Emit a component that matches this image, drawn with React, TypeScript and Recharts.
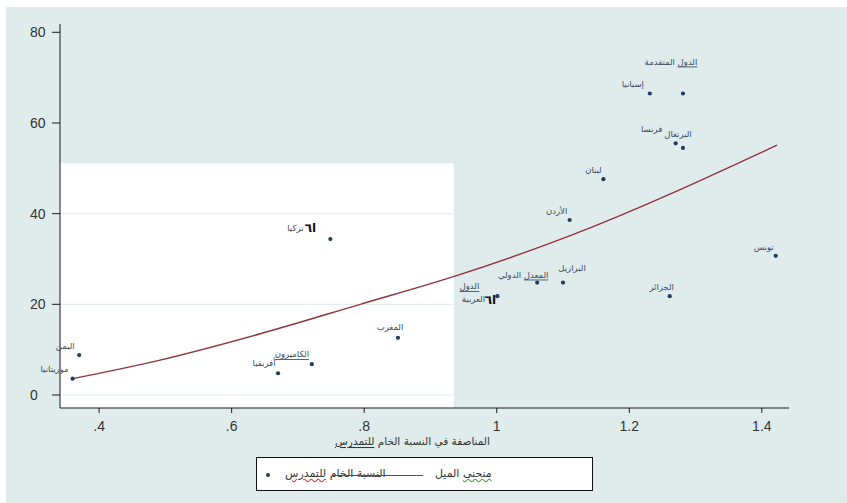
import React from "react";
import {
  ComposedChart,
  Scatter,
  Line,
  XAxis,
  YAxis,
  ReferenceArea,
  ReferenceLine,
} from "recharts";

// ---------- data ----------
const COUNTRIES = [
  "الدول المتقدمة",
  "إسبانيا",
  "فرنسا",
  "البرتغال",
  "لبنان",
  "الأردن",
  "تونس",
  "البرازيل",
  "المعدل الدولي",
  "الجزائر",
  "الدول العربية",
  "اليمن",
  "موريتانيا",
  "أفريقيا",
  "الكاميرون",
  "المغرب",
  "تركيا",
];
const PARITY_INDEX = [
  1.281, 1.231, 1.27, 1.281, 1.161, 1.11, 1.421, 1.1, 1.061, 1.261, 1.001,
  0.37, 0.36, 0.67, 0.721, 0.851, 0.749,
];
const GROSS_RATE = [
  66.5, 66.5, 55.5, 54.5, 47.6, 38.6, 30.7, 24.8, 24.8, 21.8, 21.8, 8.8, 3.6,
  4.8, 6.8, 12.6, 34.4,
];
const FIT_X = [0.36, 0.492, 0.643, 0.794, 0.937, 1.11, 1.423];
const FIT_Y = [3.6, 7.7, 13.5, 20.0, 26.2, 35.1, 55.1];

const X_TICKS = [0.4, 0.6, 0.8, 1, 1.2, 1.4];
const X_TICK_LABELS = [".4", ".6", ".8", "1", "1.2", "1.4"];
const Y_TICKS = [0, 20, 40, 60, 80];
const X_TITLE_WORDS = ["المناصفة", "في", "النسبة", "الخام", "للتمدرس"];
const LEGEND_SCATTER_WORDS = ["النسبة", "الخام", "للتمدرس"];
const LEGEND_FIT_WORDS = ["منحنى", "الميل"];

// ---------- layout / style ----------
const X_DOMAIN: [number, number] = [0.341, 1.441];
const Y_DOMAIN: [number, number] = [-2.87, 81.83];
const WHITE_PATCH = { x2: 0.935, y2: 51.1 };
const WHITE_GRID = [0, 20, 40];
const BG = "#e0ecec";
const NAVY = "#1d3f63";
const MAROON = "#90353b";
const LABEL_COLOR = "#3a4a60";
const AR_FONT = "DejaVu Sans";
const NUM_FONT = "Liberation Sans, Arial, sans-serif";
const GREEN_WAVY = "underline wavy #3aa33a";
const RED_WAVY = "underline wavy #e03030";

// label offsets (text centre relative to the dot), in px
const LABEL_OFFSETS: Record<string, [number, number]> = {
  "الدول المتقدمة": [-12, -32],
  "إسبانيا": [-17, -10],
  "فرنسا": [-24, -14],
  "البرتغال": [-5, -14],
  "لبنان": [-10, -9],
  "الأردن": [-13, -9],
  "تونس": [-12, -9],
  "البرازيل": [9, -15],
  "المعدل الدولي": [-14, -8],
  "الجزائر": [-8, -9],
  "اليمن": [-14, -9],
  "موريتانيا": [-18, -10],
  "أفريقيا": [-14, -10],
  "الكاميرون": [-20, -10],
  "المغرب": [-8, -11],
};
const WAVY_WORDS: Record<string, Record<string, string>> = {
  "الدول المتقدمة": { "الدول": GREEN_WAVY },
  "المعدل الدولي": { "المعدل": GREEN_WAVY },
  "الكاميرون": { "الكاميرون": RED_WAVY },
};

const points = COUNTRIES.map((name, i) => ({
  name,
  x: PARITY_INDEX[i],
  y: GROSS_RATE[i],
}));
const fitData = FIT_X.map((x, i) => ({ x, y: FIT_Y[i] }));

function RichWords({ words, marks }: { words: string[]; marks?: Record<string, string> }) {
  return (
    <>
      {words.map((w, i) => (
        <React.Fragment key={i}>
          {i > 0 ? " " : null}
          <tspan style={marks && marks[w] ? { textDecoration: marks[w] } : undefined}>{w}</tspan>
        </React.Fragment>
      ))}
    </>
  );
}

const labelProps = {
  fill: LABEL_COLOR,
  fontSize: 8.5,
  fontFamily: AR_FONT,
  textAnchor: "middle" as const,
  dominantBaseline: "central" as const,
};

function DotWithLabel(props: any) {
  const { cx, cy, payload } = props;
  if (cx == null || cy == null) return null;
  const name: string = payload.name;
  let label: React.ReactNode = null;
  if (name === "الدول العربية") {
    label = (
      <>
        <text x={cx - 28} y={cy - 10} {...labelProps}>
          <tspan style={{ textDecoration: GREEN_WAVY }}>الدول</tspan>
        </text>
        <text x={cx - 24} y={cy + 3} {...labelProps}>العربية</text>
        <text x={cx - 7} y={cy + 4} {...labelProps} fill="#111" fontWeight="bold" fontSize={12}>ا٦</text>
      </>
    );
  } else if (name === "تركيا") {
    label = (
      <>
        <text x={cx - 35} y={cy - 11} {...labelProps}>تركيا</text>
        <text x={cx - 20} y={cy - 11} {...labelProps} fill="#111" fontWeight="bold" fontSize={12}>ا٦</text>
      </>
    );
  } else {
    const [dx, dy] = LABEL_OFFSETS[name] ?? [-12, -10];
    label = (
      <text x={cx + dx} y={cy + dy} {...labelProps}>
        <RichWords words={name.split(" ")} marks={WAVY_WORDS[name]} />
      </text>
    );
  }
  return (
    <g>
      <circle cx={cx} cy={cy} r={2.1} fill={NAVY} />
      {label}
    </g>
  );
}

function YTick(props: any) {
  const { x, y, payload } = props;
  return (
    <text x={x - 20} y={y} dy="0.355em" textAnchor="start" fill="#333" fontSize={14} fontFamily={NUM_FONT}>
      {payload.value}
    </text>
  );
}

function XTitle(props: any) {
  const vb = props.viewBox || {};
  return (
    <text
      x={vb.x + vb.width / 2 - 12}
      y={vb.y + 33}
      textAnchor="middle"
      dominantBaseline="central"
      fill="#333"
      fontSize={10.5}
      fontFamily={AR_FONT}
    >
      <RichWords words={X_TITLE_WORDS} marks={{ "للتمدرس": RED_WAVY }} />
    </text>
  );
}

function LegendBox() {
  const txt: React.CSSProperties = {
    position: "absolute",
    top: 8,
    fontFamily: AR_FONT,
    fontSize: 11,
    color: "#333",
    whiteSpace: "nowrap",
    direction: "rtl",
    lineHeight: "16px",
  };
  return (
    <div
      style={{
        position: "absolute",
        left: 256,
        top: 457,
        width: 335,
        height: 32,
        border: "1px solid #111",
        background: "#fff",
      }}
    >
      <div
        style={{
          position: "absolute",
          left: 9,
          top: 15,
          width: 4.2,
          height: 4.2,
          borderRadius: "50%",
          background: NAVY,
        }}
      />
      <div style={{ ...txt, left: 28 }}>
        {LEGEND_SCATTER_WORDS.map((w, i) => (
          <React.Fragment key={i}>
            {i > 0 ? " " : null}
            <span style={w === "للتمدرس" ? { textDecoration: RED_WAVY } : undefined}>{w}</span>
          </React.Fragment>
        ))}
      </div>
      <div
        style={{
          position: "absolute",
          left: 76,
          top: 16.5,
          width: 90,
          height: 1.3,
          background: MAROON,
        }}
      />
      <div style={{ ...txt, left: 178 }}>
        {LEGEND_FIT_WORDS.map((w, i) => (
          <React.Fragment key={i}>
            {i > 0 ? " " : null}
            <span style={w === "منحنى" ? { textDecoration: GREEN_WAVY } : undefined}>{w}</span>
          </React.Fragment>
        ))}
      </div>
    </div>
  );
}

export default function App() {
  return (
    <div
      style={{
        position: "absolute",
        left: 0,
        top: 0,
        width: 847,
        height: 503,
        background: "#fff",
        overflow: "hidden",
      }}
    >
      <div style={{ position: "absolute", left: 6, top: 7, right: 0, bottom: 0, background: BG }} />
      <div style={{ position: "absolute", left: 0, top: 0 }}>
        <ComposedChart width={847} height={503} margin={{ top: 24, right: 58, bottom: 55, left: 0 }}>
          <XAxis
            type="number"
            dataKey="x"
            domain={X_DOMAIN}
            ticks={X_TICKS}
            tickFormatter={(v: number) => X_TICK_LABELS[X_TICKS.indexOf(v)] ?? String(v)}
            height={40}
            tickSize={5}
            tickMargin={8}
            axisLine={{ stroke: "#1a1a1a" }}
            tickLine={{ stroke: "#1a1a1a" }}
            tick={{ fill: "#333", fontSize: 14, fontFamily: NUM_FONT }}
            label={<XTitle />}
          />
          <YAxis
            type="number"
            dataKey="y"
            domain={Y_DOMAIN}
            ticks={Y_TICKS}
            width={60}
            tickSize={8}
            axisLine={{ stroke: "#1a1a1a" }}
            tickLine={{ stroke: "#1a1a1a" }}
            tick={<YTick />}
          />
          <ReferenceArea
            x1={X_DOMAIN[0]}
            x2={WHITE_PATCH.x2}
            y1={Y_DOMAIN[0]}
            y2={WHITE_PATCH.y2}
            fill="#ffffff"
            fillOpacity={1}
            stroke="none"
          />
          {WHITE_GRID.map((t) => (
            <ReferenceLine
              key={t}
              segment={[
                { x: X_DOMAIN[0], y: t },
                { x: WHITE_PATCH.x2, y: t },
              ]}
              stroke="#e4eeee"
              strokeWidth={1.2}
            />
          ))}
          <Line
            data={fitData}
            dataKey="y"
            type="monotone"
            stroke={MAROON}
            strokeWidth={1.4}
            dot={false}
            activeDot={false}
            isAnimationActive={false}
          />
          <Scatter data={points} dataKey="y" shape={DotWithLabel} isAnimationActive={false} />
        </ComposedChart>
      </div>
      <LegendBox />
    </div>
  );
}
